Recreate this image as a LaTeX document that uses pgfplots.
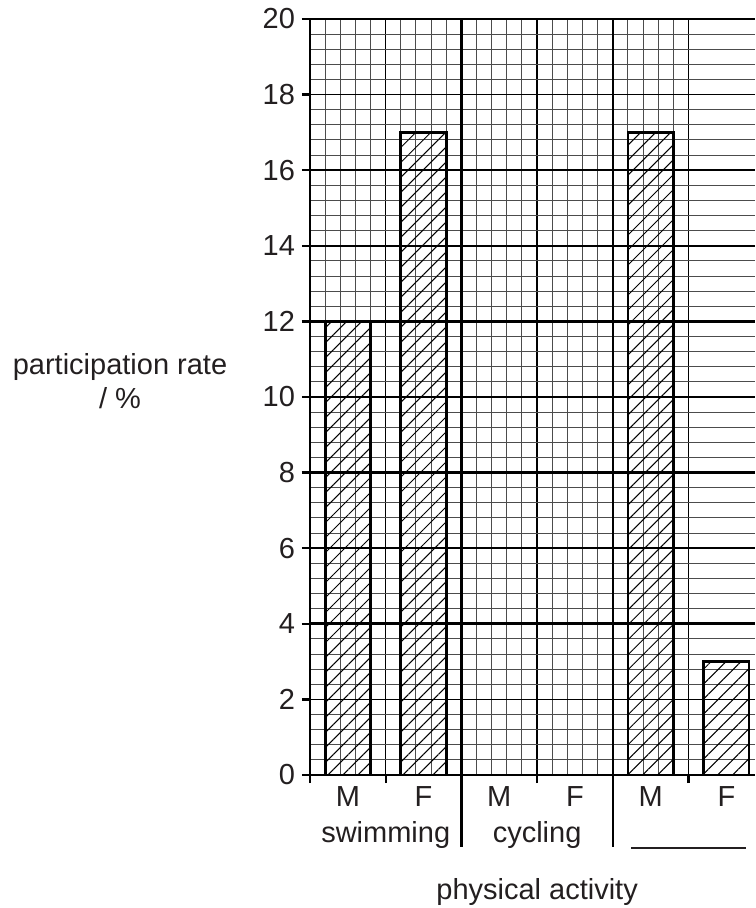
\documentclass[border=0pt]{standalone}
\usepackage{fontspec}
\setmainfont{Liberation Sans}
\usepackage{pgfplots}
\pgfplotsset{compat=1.18}
\usetikzlibrary{patterns.meta}

\definecolor{ink}{HTML}{231F20}

\begin{document}
\begin{tikzpicture}[font=\fontsize{14.5}{17}\selectfont, text=ink]
% fix the page to the reference proportions (axis corner at origin)
\useasboundingbox (-155pt,-66.5pt) rectangle (222.5pt,387.5pt);
\begin{axis}[
    at={(0,0)}, anchor=south west,
    scale only axis,
    width=222.5pt, height=378pt,
    xmin=-0.5, xmax=5.378,
    ymin=0, ymax=20,
    axis x line*=bottom, axis y line*=left,
    axis line style={black, line width=1.3pt},
    /pgf/number format/assume math mode=true,
    ytick={0,2,...,20},
    minor y tick num=4,
    xtick={-0.5,0.5,1.5,2.5,3.5,4.5},
    xticklabels={},
    minor x tick num=4,
    tick align=outside,
    major tick length=4pt,
    minor tick length=0pt,
    tick style={black, line width=1.2pt},
    grid=both,
    minor grid style={black!70, line width=0.5pt},
    major grid style={black, line width=0.75pt},
    extra y ticks={4,8,12,16,20},
    extra y tick labels={},
    extra y tick style={major grid style={black, line width=1.3pt}},
    extra x ticks={0,1,2,3,4,5},
    extra x tick labels={M,F,M,F,M,F},
    extra x tick style={grid=none, major tick length=0pt,
        tick label style={yshift=-2pt}},
    clip=false,
]
% participation rate / % (cycling M and F are left blank in the reference)
\addplot[ybar, bar width=0.6, draw=black, line width=1.4pt,
    pattern={Lines[angle=45, distance=5.3pt, line width=0.5pt]}]
    coordinates {(0,12) (1,17) (4,17) (5,3)};

% group separators
\draw[black, line width=1.3pt] (axis cs:1.5,20) -- ([yshift=-36pt]axis cs:1.5,0);
\draw[black, line width=1.3pt] (axis cs:3.5,20) -- ([yshift=-36pt]axis cs:3.5,0);

% group names
\node[anchor=base] at ([yshift=-33.5pt]axis cs:0.5,0) {swimming};
\node[anchor=base] at ([yshift=-33.5pt]axis cs:2.5,0) {cycling};
\draw[ink, line width=0.6pt] ([xshift=-28.75pt,yshift=-36.5pt]axis cs:4.5,0)
    -- ([xshift=28.75pt,yshift=-36.5pt]axis cs:4.5,0);

% axis titles
\node[align=center] at ([xshift=-95pt,yshift=8pt]axis cs:-0.5,10) {participation rate\\/ \%};
\node at ([yshift=-58.5pt]axis cs:2.5,0) {physical activity};
\end{axis}
\end{tikzpicture}
\end{document}
